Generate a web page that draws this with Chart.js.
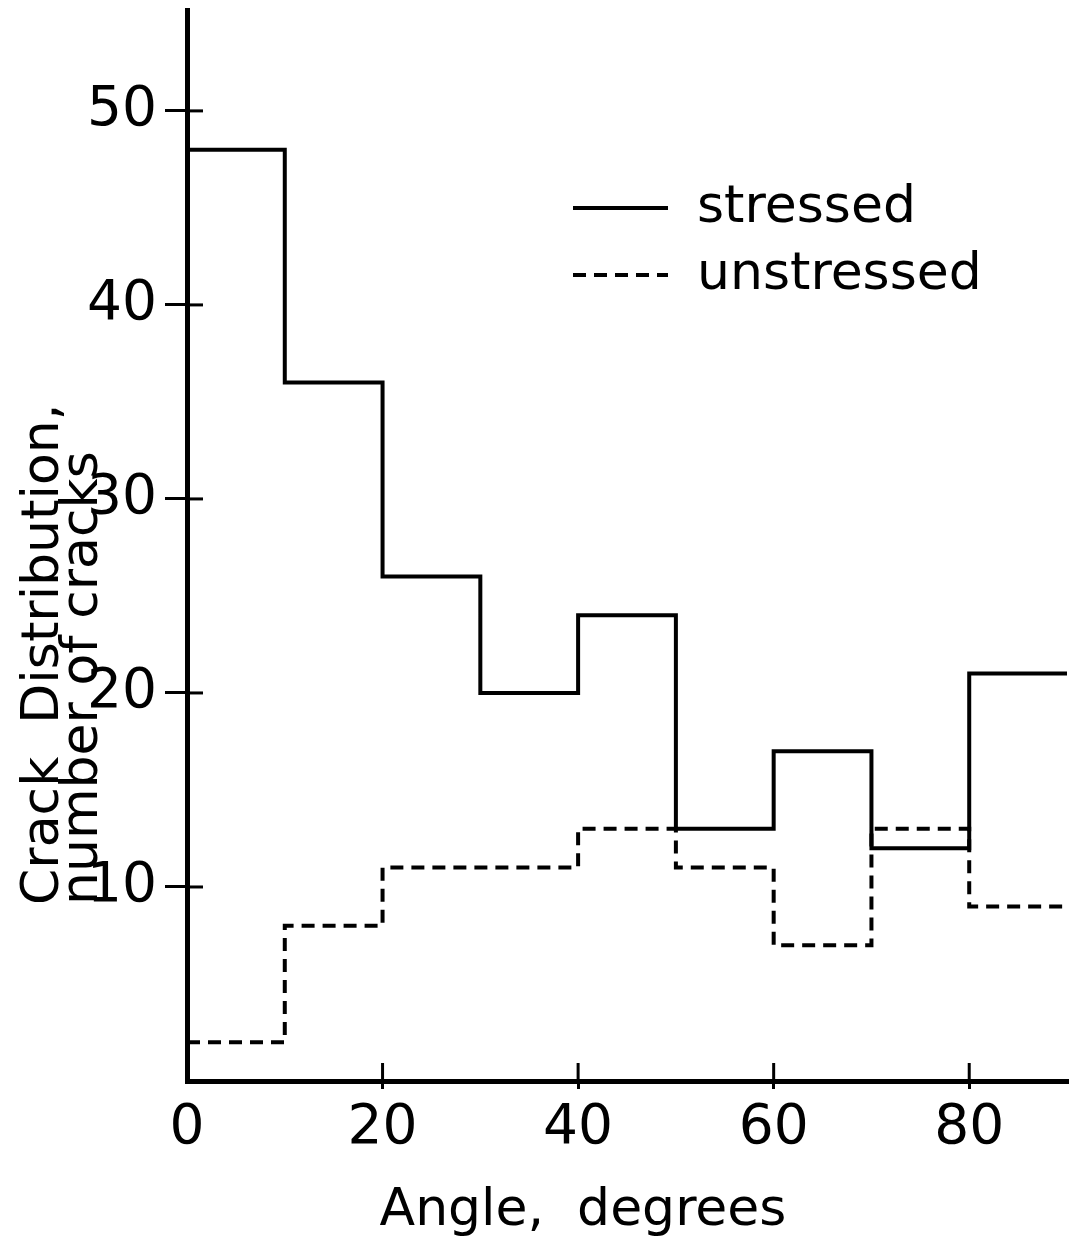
<!DOCTYPE html>
<html>
<head>
<meta charset="utf-8">
<script src="https://cdn.jsdelivr.net/npm/chart.js@4.4.1/dist/chart.umd.min.js"></script>
<style>
  html, body { margin: 0; padding: 0; background: #fff; }
  canvas { display: block; }
</style>
</head>
<body>
<canvas id="chart" width="1078" height="1247"></canvas>
<script>
// crack counts per 10 degree bin
const binStarts = [0, 10, 20, 30, 40, 50, 60, 70, 80];
const binEnd = 90;
const stressed = [48, 36, 26, 20, 24, 13, 17, 12, 21];
const unstressed = [2, 8, 11, 11, 13, 11, 7, 13, 9];
const seriesNames = ['stressed', 'unstressed'];
const xTicks = [0, 20, 40, 60, 80];
const yTicks = [10, 20, 30, 40, 50];
const xTitle = 'Angle,  degrees';
const yTitle = ['Crack  Distribution,', 'number of cracks'];

const FONT = 'DejaVu Sans';
Chart.defaults.font.family = FONT;
Chart.defaults.color = '#000';

// one point per bin start plus the closing edge, drawn as steps
function toSteps(counts) {
    const pts = binStarts.map((x, i) => ({ x: x, y: counts[i] }));
    pts.push({ x: binEnd, y: counts[counts.length - 1] });
    return pts;
}

// legend drawn inside the plot, line sample + label
const legendLines = {
    id: 'legendLines',
    afterDraw(chart) {
        const { ctx, chartArea } = chart;
        ctx.save();
        chart.data.datasets.forEach((ds, i) => {
            const y = chartArea.top + 198 + i * 67;
            const x0 = chartArea.left + 386;
            ctx.beginPath();
            ctx.setLineDash(ds.borderDash || []);
            ctx.lineWidth = ds.borderWidth;
            ctx.strokeStyle = ds.borderColor;
            ctx.moveTo(x0, y);
            ctx.lineTo(x0 + 95, y);
            ctx.stroke();
            ctx.setLineDash([]);
            ctx.font = `52px "${FONT}"`;
            ctx.fillStyle = '#000';
            ctx.textBaseline = 'middle';
            ctx.textAlign = 'left';
            ctx.fillText(ds.label, x0 + 124, y);
        });
        ctx.restore();
    }
};

// axis titles: rotated two-line y title from the bottom, x title under the ticks
const axisTitles = {
    id: 'axisTitles',
    afterDraw(chart) {
        const { ctx, chartArea } = chart;
        ctx.save();
        ctx.font = `52px "${FONT}"`;
        ctx.fillStyle = '#000';
        ctx.textBaseline = 'alphabetic';

        ctx.textAlign = 'center';
        ctx.fillText(xTitle, chartArea.left + 396, chartArea.bottom + 144);

        ctx.textAlign = 'left';
        ctx.translate(0, chartArea.bottom - 176);
        ctx.rotate(-Math.PI / 2);
        ctx.fillText(yTitle[0], 0, 58);
        ctx.fillText(yTitle[1], 0, 97);
        ctx.restore();
    }
};

// tick marks cross the axes: draw the inner half
const innerTicks = {
    id: 'innerTicks',
    afterDatasetsDraw(chart) {
        const { ctx, chartArea, scales } = chart;
        ctx.save();
        ctx.strokeStyle = '#000';
        ctx.lineWidth = 3;
        scales.x.ticks.forEach(t => {
            if (t.value === 0) return;
            const px = scales.x.getPixelForValue(t.value);
            ctx.beginPath();
            ctx.moveTo(px, chartArea.bottom);
            ctx.lineTo(px, chartArea.bottom - 18);
            ctx.stroke();
        });
        scales.y.ticks.forEach(t => {
            const py = scales.y.getPixelForValue(t.value);
            ctx.beginPath();
            ctx.moveTo(chartArea.left, py);
            ctx.lineTo(chartArea.left + 16, py);
            ctx.stroke();
        });
        ctx.restore();
    }
};

const ctx = document.getElementById('chart').getContext('2d');
new Chart(ctx, {
    type: 'line',
    data: {
        datasets: [
            {
                label: seriesNames[0],
                data: toSteps(stressed),
                stepped: 'before',
                borderColor: '#000',
                borderWidth: 4,
                pointRadius: 0,
                fill: false
            },
            {
                label: seriesNames[1],
                data: toSteps(unstressed),
                stepped: 'before',
                borderColor: '#000',
                borderWidth: 4,
                borderDash: [13, 8],
                pointRadius: 0,
                fill: false
            }
        ]
    },
    options: {
        responsive: false,
        animation: false,
        layout: { padding: { top: 10, right: 11, left: 0, bottom: 0 } },
        plugins: {
            legend: { display: false },
            tooltip: { enabled: false }
        },
        scales: {
            x: {
                type: 'linear',
                min: 0,
                max: binEnd,
                afterBuildTicks: s => { s.ticks = xTicks.map(v => ({ value: v })); },
                afterFit: s => { s.height = 166; },
                ticks: { font: { size: 55 }, padding: 7, maxRotation: 0, autoSkip: false },
                grid: {
                    drawOnChartArea: false,
                    drawTicks: true,
                    tickLength: 8,
                    lineWidth: 3,
                    color: c => (c.tick && c.tick.value === 0) ? 'rgba(0,0,0,0)' : '#000'
                },
                border: { display: true, width: 5, color: '#000' }
            },
            y: {
                type: 'linear',
                min: 0,
                max: 55.2,
                afterBuildTicks: s => { s.ticks = yTicks.map(v => ({ value: v })); },
                afterFit: s => {
                    s.width = 187;
                    s.paddingTop = 0;
                    s.paddingBottom = 0;
                },
                ticks: { font: { size: 55 }, padding: 8 },
                grid: {
                    drawOnChartArea: false,
                    drawTicks: true,
                    tickLength: 22,
                    lineWidth: 3,
                    color: '#000'
                },
                border: { display: true, width: 5, color: '#000' }
            }
        }
    },
    plugins: [legendLines, axisTitles, innerTicks]
});
</script>
</body>
</html>
